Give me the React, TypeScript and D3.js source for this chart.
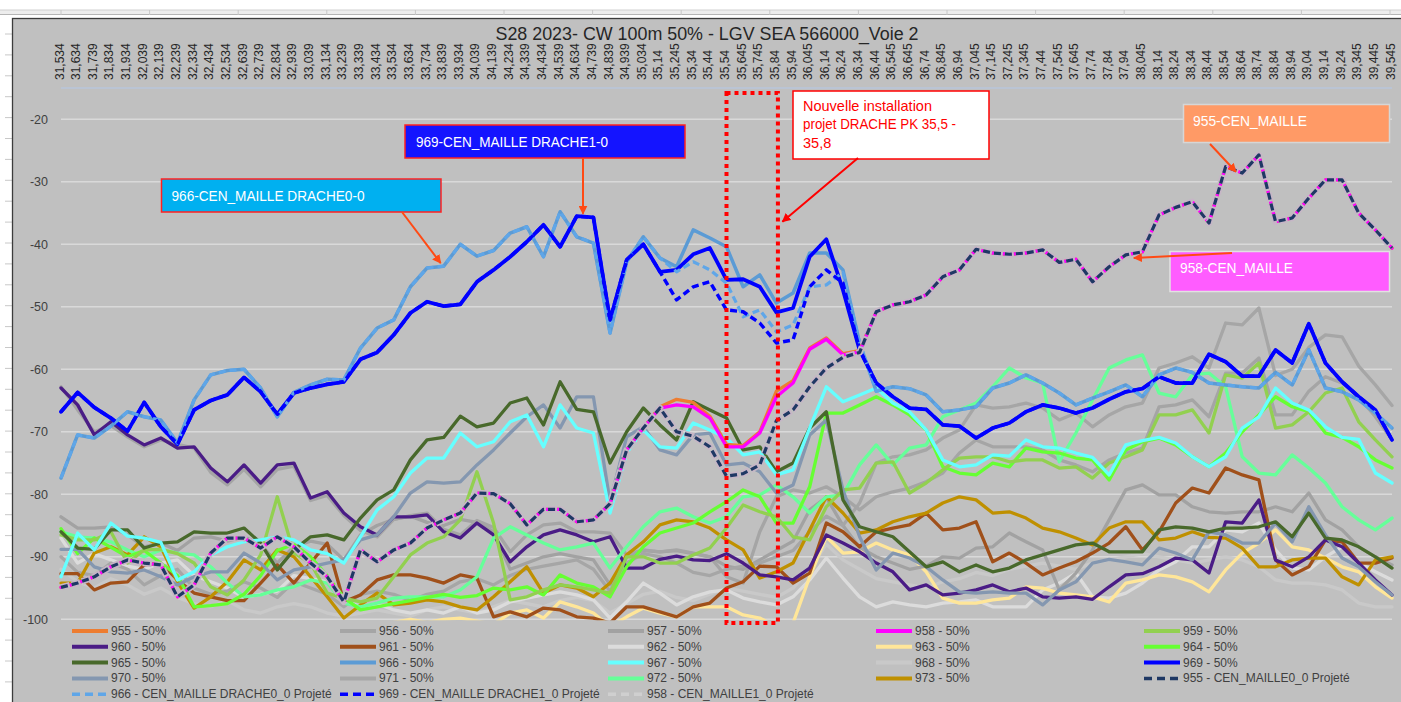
import React from 'react';
import * as d3 from 'd3';

const CATEGORIES = [
  "31,534","31,634","31,739","31,834","31,934","32,039","32,139","32,239","32,334","32,434",
  "32,534","32,639","32,739","32,834","32,939","33,039","33,134","33,239","33,339","33,434",
  "33,534","33,634","33,734","33,839","33,934","34,039","34,139","34,234","34,339","34,434",
  "34,539","34,634","34,739","34,839","34,939","35,034","35,14","35,245","35,34","35,44",
  "35,54","35,645","35,745","35,84","35,94","36,045","36,14","36,24","36,34","36,44",
  "36,545","36,645","36,74","36,845","36,94","37,045","37,145","37,245","37,345","37,44",
  "37,545","37,645","37,74","37,84","37,94","38,045","38,14","38,24","38,34","38,44",
  "38,54","38,64","38,74","38,84","38,94","39,04","39,14","39,24","39,345","39,445",
  "39,545"
];

const Y_TICKS = [-20, -30, -40, -50, -60, -70, -80, -90, -100];

const S955 = [
  -94.9,-94.2,-93.2,-91.6,-90.5,-91.0,-91.3,-96.4,-94.5,-89.4,
  -87.0,-87.0,-88.6,-86.8,-88.4,-91.0,-93.2,-97.2,-88.9,-90.8,
  -88.9,-87.8,-85.4,-84.1,-83.0,-79.8,-79.9,-81.5,-84.9,-82.4,
  -82.4,-84.4,-84.1,-81.5,-72.9,-69.4,-66.0,-64.8,-65.3,-67.5,
  -72.0,-72.2,-70.0,-63.5,-61.8,-56.6,-55.0,-57.5,-57.0,-50.8,
  -49.7,-49.2,-48.1,-45.2,-44.1,-40.8,-41.4,-41.6,-41.4,-40.9,
  -42.9,-42.4,-46.0,-43.6,-41.7,-41.2,-35.3,-34.1,-33.2,-36.6,
  -27.6,-28.6,-25.7,-36.4,-35.8,-32.6,-29.7,-29.7,-35.0,-37.7,
  -40.6
];
const S956 = [
  -62.8,-66.5,-70.0,-69.0,-70.8,-72.4,-71.3,-72.0,-72.6,-76.5,
  -78.5,-76.0,-78.8,-76.0,-75.5,-81.0,-80.2,-83.4,-85.8,-86.8,
  -84.0,-83.4,-83.0,-85.6,-86.5,-84.2,-85.3,-89.2,-86.5,-84.9,
  -84.6,-86.0,-86.0,-86.2,-89.7,-88.9,-89.2,-88.9,-89.4,-90.0,
  -93.2,-94.2,-86.0,-80.4,-79.3,-79.8,-78.8,-80.4,-82.5,-80.4,
  -79.6,-79.0,-78.0,-76.6,-73.4,-71.3,-72.4,-72.4,-72.4,-72.9,
  -74.5,-75.3,-76.4,-74.5,-73.4,-72.6,-66.0,-65.7,-64.9,-67.6,
  -60.6,-60.6,-58.2,-67.3,-67.3,-63.5,-61.2,-62.2,-64.4,-67.6,
  -71.3
];
const S957 = [
  -83.6,-85.4,-85.4,-85.2,-86.5,-88.4,-87.8,-89.0,-87.0,-86.8,
  -87.5,-86.8,-88.0,-91.0,-88.4,-87.5,-88.0,-90.5,-86.5,-85.0,
  -84.0,-83.5,-84.5,-85.0,-84.0,-84.5,-86.0,-92.0,-91.0,-90.0,
  -89.5,-90.0,-90.5,-94.5,-90.0,-89.0,-89.2,-89.0,-89.5,-90.0,
  -91.5,-92.0,-90.5,-89.0,-87.5,-82.5,-80.5,-85.0,-88.5,-90.0,
  -91.0,-92.0,-91.5,-90.0,-90.2,-88.6,-88.4,-86.2,-87.6,-88.9,
  -95.3,-92.6,-88.9,-84.1,-79.3,-78.5,-80.1,-80.1,-82.0,-82.8,
  -83.0,-82.8,-82.8,-82.0,-82.8,-79.8,-84.1,-85.7,-88.4,-90.0,
  -91.3
];
const S958 = [
  -94.9,-94.2,-93.2,-91.6,-90.5,-91.0,-91.3,-96.4,-94.5,-89.4,
  -87.0,-87.0,-88.6,-86.8,-88.4,-91.0,-93.2,-97.2,-88.9,-90.8,
  -88.9,-87.8,-85.4,-84.1,-83.0,-79.8,-79.9,-81.5,-84.9,-82.4,
  -82.4,-84.4,-84.1,-81.5,-72.9,-69.4,-66.2,-65.7,-66.0,-67.8,
  -72.4,-72.4,-70.2,-64.4,-62.2,-56.8,-55.2,-57.7,-57.2,-50.8,
  -49.7,-49.2,-48.1,-45.2,-44.1,-40.8,-41.4,-41.6,-41.4,-40.9,
  -42.9,-42.4,-46.0,-43.6,-41.7,-41.2,-35.3,-34.1,-33.2,-36.6,
  -27.6,-28.6,-25.7,-36.4,-35.8,-32.6,-29.7,-29.7,-35.0,-37.7,
  -40.6
];
const S959 = [
  -86.5,-87.3,-87.3,-86.0,-91.0,-88.9,-88.8,-89.5,-91.0,-94.8,
  -96.1,-93.7,-89.7,-80.4,-89.4,-91.0,-95.8,-96.6,-97.2,-96.6,
  -93.2,-89.7,-87.8,-86.8,-84.1,-76.4,-84.6,-96.9,-96.4,-95.3,
  -94.5,-94.8,-95.3,-95.8,-90.0,-90.0,-91.0,-91.0,-89.7,-88.6,
  -85.4,-81.7,-82.8,-83.6,-86.8,-87.3,-82.0,-79.3,-79.0,-75.0,
  -74.8,-79.8,-78.2,-76.1,-74.2,-74.0,-74.0,-74.8,-74.5,-74.5,
  -75.8,-75.6,-77.4,-75.0,-74.0,-72.9,-67.3,-67.3,-66.5,-70.2,
  -60.9,-61.4,-59.0,-69.4,-68.9,-66.8,-63.8,-63.0,-68.4,-71.3,
  -74.0
];
const S960 = [
  -63.0,-65.7,-70.5,-68.4,-70.5,-72.1,-71.0,-72.6,-72.4,-75.8,
  -78.0,-75.3,-78.2,-75.3,-75.0,-80.6,-79.6,-83.0,-85.2,-86.5,
  -83.6,-83.6,-83.3,-86.0,-87.0,-84.6,-86.5,-90.8,-88.4,-86.5,
  -85.7,-86.5,-87.6,-86.8,-91.8,-91.8,-90.4,-89.9,-90.5,-90.6,
  -89.5,-91.0,-92.9,-93.2,-93.7,-91.8,-86.5,-87.8,-89.2,-91.0,
  -92.4,-95.3,-94.5,-96.1,-95.8,-95.3,-94.5,-95.6,-95.0,-96.4,
  -96.6,-96.4,-96.8,-94.8,-92.9,-92.7,-91.6,-90.2,-90.5,-92.6,
  -84.4,-84.6,-80.9,-90.5,-91.6,-90.0,-87.3,-88.4,-91.0,-93.7,
  -96.1
];
const S961 = [
  -92.7,-92.7,-95.3,-94.2,-94.0,-91.3,-91.0,-93.7,-95.8,-96.4,
  -97.0,-97.0,-94.2,-91.3,-94.2,-91.0,-87.8,-97.2,-96.1,-93.7,
  -92.9,-92.9,-93.4,-94.2,-92.9,-93.4,-99.6,-98.8,-99.6,-98.2,
  -98.5,-99.6,-99.8,-100.6,-98.0,-98.0,-98.8,-99.6,-98.0,-97.4,
  -95.0,-94.0,-91.5,-91.6,-94.2,-92.6,-84.6,-86.0,-88.4,-86.0,
  -85.4,-84.9,-83.0,-85.7,-85.4,-84.4,-90.8,-89.4,-91.0,-92.9,
  -91.8,-90.8,-89.4,-87.8,-85.2,-88.9,-86.0,-81.4,-79.0,-79.8,
  -75.8,-76.9,-77.7,-90.5,-92.9,-91.6,-87.3,-87.6,-91.0,-91.0,
  -90.2
];
const S962 = [
  -87.0,-91.0,-89.5,-90.5,-91.5,-92.0,-91.0,-90.5,-93.0,-94.0,
  -95.0,-96.5,-96.0,-95.5,-93.0,-93.5,-94.0,-97.0,-98.0,-97.5,
  -98.5,-99.0,-98.5,-99.0,-98.0,-99.0,-98.5,-97.2,-96.6,-96.1,
  -95.6,-96.1,-96.9,-99.8,-97.2,-94.2,-95.8,-97.7,-96.4,-95.6,
  -95.3,-96.6,-97.2,-97.7,-96.4,-93.7,-90.2,-93.4,-96.4,-98.0,
  -97.2,-97.7,-98.0,-97.4,-97.2,-96.9,-98.0,-98.0,-98.0,-95.3,
  -94.2,-92.6,-96.4,-96.6,-95.8,-94.2,-92.1,-90.8,-88.4,-88.4,
  -85.7,-86.0,-84.6,-88.9,-91.8,-92.1,-90.0,-88.4,-91.0,-92.4,
  -93.7
];
const S963 = [
  -101.0,-101.0,-102.0,-101.0,-100.5,-101.0,-102.0,-101.0,-101.5,-101.0,
  -100.5,-101.0,-101.5,-101.0,-100.5,-101.0,-101.0,-102.0,-102.0,-101.0,
  -100.5,-100.0,-100.5,-100.0,-99.8,-100.3,-100.8,-99.0,-98.5,-99.8,
  -97.2,-98.0,-99.0,-101.2,-99.6,-98.2,-99.0,-99.6,-98.0,-98.0,
  -98.0,-99.3,-99.8,-101.2,-100.6,-93.2,-86.8,-89.4,-89.2,-87.8,
  -88.9,-89.7,-92.4,-96.6,-97.4,-97.4,-96.9,-96.6,-94.8,-95.0,
  -95.8,-96.1,-96.4,-97.2,-94.2,-93.7,-92.9,-93.2,-94.0,-95.6,
  -92.1,-89.4,-87.8,-85.7,-88.4,-88.9,-90.2,-91.6,-92.4,-94.8,
  -96.6
];
const S964 = [
  -85.5,-89.5,-87.0,-88.5,-90.0,-89.0,-91.0,-93.0,-98.0,-97.8,
  -97.5,-96.0,-93.0,-89.0,-88.0,-90.0,-93.0,-96.5,-98.5,-98.0,
  -97.5,-97.0,-96.5,-96.0,-96.5,-96.2,-95.0,-95.3,-94.8,-96.1,
  -92.9,-94.2,-94.8,-96.4,-91.6,-88.4,-86.2,-85.4,-84.6,-82.8,
  -81.2,-79.3,-80.4,-84.6,-84.6,-78.8,-67.0,-67.0,-65.7,-64.4,
  -65.7,-67.3,-69.7,-75.6,-76.6,-76.9,-75.0,-75.6,-72.6,-73.2,
  -73.4,-74.2,-74.5,-77.7,-72.9,-71.6,-71.0,-72.1,-74.0,-75.6,
  -73.4,-70.0,-67.3,-64.4,-66.0,-66.8,-70.2,-70.9,-72.4,-74.5,
  -75.8
];
const S965 = [
  -86.0,-88.6,-88.8,-85.7,-85.7,-88.6,-87.8,-87.6,-86.0,-86.2,
  -86.2,-85.4,-87.8,-92.1,-88.9,-86.8,-86.5,-87.3,-83.8,-80.9,
  -79.3,-74.5,-71.3,-70.9,-67.5,-69.2,-68.6,-65.4,-64.6,-68.9,
  -62.0,-66.4,-66.8,-75.0,-70.0,-66.2,-68.9,-71.3,-65.2,-66.5,
  -67.8,-72.9,-72.4,-76.4,-75.0,-69.4,-66.8,-80.9,-85.2,-86.0,
  -86.8,-89.2,-91.6,-90.8,-92.4,-91.3,-92.4,-91.8,-90.5,-89.7,
  -88.9,-88.1,-87.8,-89.2,-89.2,-89.2,-85.7,-85.2,-85.4,-86.0,
  -85.4,-85.4,-85.2,-84.4,-86.8,-83.0,-87.0,-87.3,-88.4,-90.0,
  -91.8
];
const S966 = [
  -77.4,-70.5,-71.0,-69.1,-66.8,-67.6,-68.1,-71.8,-64.9,-60.9,
  -60.2,-60.0,-63.0,-67.6,-63.7,-62.5,-61.6,-61.7,-56.6,-53.4,
  -52.1,-46.8,-43.8,-43.5,-40.0,-41.9,-41.0,-38.2,-37.2,-42.0,
  -34.8,-38.8,-39.8,-54.2,-42.8,-38.8,-42.2,-43.6,-37.7,-39.0,
  -40.4,-46.8,-44.9,-49.4,-47.8,-41.4,-41.4,-44.1,-55.8,-63.5,
  -62.8,-63.1,-64.1,-66.8,-66.5,-66.0,-63.0,-62.2,-60.9,-62.2,
  -63.8,-65.7,-64.6,-63.6,-62.5,-64.4,-60.9,-59.8,-60.5,-62.2,
  -62.5,-62.8,-63.0,-60.5,-62.5,-56.9,-63.0,-63.6,-64.9,-67.0,
  -69.4
];
const S967 = [
  -93.2,-86.2,-88.9,-84.6,-86.7,-87.0,-87.7,-93.7,-92.4,-89.7,
  -88.4,-87.6,-87.3,-86.8,-87.3,-88.9,-89.5,-91.0,-86.8,-82.5,
  -80.4,-76.6,-74.2,-74.2,-70.2,-72.4,-71.6,-68.4,-67.3,-72.4,
  -65.7,-69.4,-70.2,-83.0,-73.4,-69.7,-72.4,-72.6,-68.6,-69.7,
  -71.0,-73.7,-73.2,-76.9,-76.1,-69.4,-62.8,-65.2,-64.1,-63.0,
  -65.4,-66.8,-69.7,-74.5,-75.6,-75.3,-73.7,-73.9,-71.3,-72.4,
  -72.6,-73.4,-74.1,-76.9,-72.1,-71.4,-70.9,-71.8,-74.0,-75.6,
  -74.0,-69.4,-67.6,-63.0,-65.4,-66.5,-69.2,-70.9,-71.2,-76.6,
  -78.2
];
const S968 = [
  -92.0,-94.0,-95.0,-93.5,-94.5,-96.0,-95.0,-96.5,-97.5,-98.0,
  -97.0,-98.5,-99.0,-98.0,-97.5,-98.0,-99.0,-99.5,-99.0,-98.5,
  -99.0,-99.5,-98.5,-98.0,-98.5,-99.0,-98.0,-97.0,-97.5,-98.0,
  -97.0,-96.5,-97.0,-99.0,-97.5,-96.0,-95.5,-96.5,-97.0,-96.0,
  -95.0,-95.5,-96.0,-96.5,-95.0,-92.0,-88.0,-90.5,-92.0,-93.5,
  -94.0,-94.5,-95.0,-94.0,-93.5,-92.5,-93.0,-92.0,-91.5,-91.0,
  -91.5,-92.0,-91.0,-90.5,-90.0,-89.5,-90.0,-90.5,-91.0,-90.5,
  -90.0,-90.5,-91.6,-93.7,-94.2,-94.2,-94.5,-95.3,-97.4,-98.0,
  -98.0
];
const S969 = [
  -66.8,-63.7,-66.1,-67.8,-69.9,-65.3,-69.2,-72.0,-66.5,-65.0,
  -64.1,-61.3,-63.6,-67.2,-63.8,-63.0,-62.4,-62.0,-58.4,-57.3,
  -54.5,-51.0,-49.2,-49.9,-49.6,-46.0,-44.1,-42.0,-39.6,-36.9,
  -40.4,-35.5,-35.7,-52.1,-42.5,-40.0,-44.4,-44.1,-41.6,-40.6,
  -45.7,-45.6,-46.8,-50.9,-50.2,-42.0,-39.2,-47.3,-56.9,-62.2,
  -64.4,-66.2,-66.4,-68.9,-69.1,-71.0,-69.4,-68.6,-66.8,-65.7,
  -66.2,-67.0,-66.2,-64.8,-63.6,-63.1,-61.2,-62.2,-62.2,-57.6,
  -58.8,-61.1,-61.1,-56.9,-59.0,-52.7,-59.0,-62.0,-64.4,-66.5,
  -71.3
];
const S970 = [
  -88.8,-88.8,-91.6,-92.4,-92.6,-92.1,-93.2,-94.5,-93.2,-92.4,
  -92.4,-89.4,-91.0,-93.7,-92.1,-91.6,-91.0,-90.5,-87.3,-86.5,
  -83.6,-79.8,-78.0,-78.2,-78.0,-75.3,-72.9,-70.2,-67.6,-65.7,
  -69.4,-64.4,-64.4,-81.2,-70.8,-69.2,-72.9,-73.7,-70.5,-70.2,
  -75.3,-75.0,-76.4,-79.8,-78.5,-70.5,-68.1,-79.3,-86.8,-92.1,
  -89.4,-90.2,-91.6,-93.7,-95.6,-95.8,-95.6,-95.8,-95.8,-97.7,
  -95.3,-94.0,-91.0,-90.4,-90.8,-91.3,-88.6,-89.4,-90.5,-86.0,
  -86.5,-87.8,-87.8,-84.6,-87.6,-82.0,-86.5,-90.2,-91.6,-94.0,
  -96.1
];
const S971 = [
  -90.0,-92.5,-93.0,-91.0,-92.0,-94.5,-93.0,-92.0,-95.0,-96.0,
  -95.5,-94.0,-95.0,-96.5,-94.0,-95.0,-96.0,-98.0,-96.0,-95.5,
  -96.0,-97.0,-96.0,-95.5,-94.0,-93.5,-94.5,-93.0,-92.0,-91.5,
  -91.0,-90.5,-92.0,-95.5,-91.0,-89.5,-90.0,-91.0,-92.5,-93.0,
  -92.0,-91.5,-91.0,-90.0,-89.0,-86.0,-83.5,-85.0,-81.4,-75.0,
  -74.0,-73.7,-72.9,-71.0,-69.7,-65.7,-66.2,-66.0,-65.4,-66.2,
  -68.1,-67.0,-69.2,-67.3,-66.0,-65.4,-59.8,-59.0,-58.0,-59.8,
  -52.6,-52.9,-50.2,-61.0,-60.0,-56.5,-54.5,-54.8,-59.5,-62.5,
  -65.8
];
const S972 = [
  -86.0,-86.8,-87.0,-87.6,-88.9,-90.0,-88.9,-89.4,-89.7,-91.6,
  -94.2,-96.4,-96.1,-95.3,-94.8,-93.7,-94.2,-97.4,-98.0,-97.4,
  -96.6,-96.4,-96.4,-96.4,-95.3,-93.2,-87.0,-85.2,-86.5,-87.8,
  -88.9,-88.4,-87.8,-91.8,-88.4,-85.2,-82.8,-82.2,-83.6,-84.6,
  -83.6,-80.4,-80.1,-78.5,-80.4,-83.0,-80.4,-80.1,-75.3,-72.1,
  -75.3,-72.6,-72.1,-67.6,-66.5,-65.4,-62.8,-59.8,-61.4,-62.2,
  -74.8,-70.2,-64.9,-59.8,-58.5,-57.7,-63.8,-64.4,-60.9,-60.6,
  -62.8,-74.0,-76.6,-76.9,-73.7,-75.8,-78.2,-82.0,-84.1,-85.7,
  -83.8
];
const S973 = [
  -94.2,-94.2,-89.4,-88.4,-89.7,-86.8,-88.4,-94.0,-98.2,-96.4,
  -94.0,-90.5,-92.1,-88.9,-90.0,-93.2,-96.4,-99.8,-97.7,-95.8,
  -97.7,-97.4,-96.9,-97.2,-98.0,-98.5,-96.4,-94.0,-91.6,-95.8,
  -94.5,-95.0,-96.4,-94.2,-89.7,-87.6,-84.9,-84.1,-84.4,-85.4,
  -87.3,-88.9,-93.4,-92.4,-91.0,-85.7,-80.4,-83.0,-86.2,-85.7,
  -84.4,-83.6,-83.0,-81.4,-80.4,-80.9,-83.0,-82.8,-83.8,-85.4,
  -86.0,-87.0,-88.1,-85.4,-84.4,-84.4,-87.3,-87.0,-86.0,-86.9,
  -87.0,-88.6,-91.6,-91.6,-90.5,-90.2,-90.2,-93.2,-94.5,-90.5,
  -90.0
];
const S955_PROJ = [
  -94.9,-94.2,-93.2,-91.6,-90.5,-91.0,-91.3,-96.4,-94.5,-89.4,
  -87.0,-87.0,-88.6,-86.8,-88.4,-91.0,-93.2,-97.2,-88.9,-90.8,
  -88.9,-87.8,-85.4,-84.1,-83.0,-79.8,-79.9,-81.5,-84.9,-82.4,
  -82.4,-84.4,-84.1,-81.5,-72.9,-69.4,-66.2,-70.0,-70.7,-72.4,
  -77.1,-76.7,-75.3,-68.2,-66.5,-62.8,-59.8,-58.1,-57.3,-50.8,
  -49.7,-49.2,-48.1,-45.2,-44.1,-40.8,-41.4,-41.6,-41.4,-40.9,
  -42.9,-42.4,-46.0,-43.6,-41.7,-41.2,-35.3,-34.1,-33.2,-36.6,
  -27.6,-28.6,-25.7,-36.4,-35.8,-32.6,-29.7,-29.7,-35.0,-37.7,
  -40.6
];
const S966_PROJ = [
  -77.4,-70.5,-71.0,-69.1,-66.8,-67.6,-68.1,-71.8,-64.9,-60.9,
  -60.2,-60.0,-63.0,-67.6,-63.7,-62.5,-61.6,-61.7,-56.6,-53.4,
  -52.1,-46.8,-43.8,-43.5,-40.0,-41.9,-41.0,-38.2,-37.2,-42.0,
  -34.8,-38.8,-39.8,-54.2,-42.8,-38.8,-42.2,-44.4,-42.8,-44.1,
  -46.2,-51.6,-50.5,-54.0,-52.9,-46.8,-46.5,-44.5,-55.8,-63.5,
  -62.8,-63.1,-64.1,-66.8,-66.5,-66.0,-63.0,-62.2,-60.9,-62.2,
  -63.8,-65.7,-64.6,-63.6,-62.5,-64.4,-60.9,-59.8,-60.5,-62.2,
  -62.5,-62.8,-63.0,-60.5,-62.5,-56.9,-63.0,-63.6,-64.9,-67.0,
  -69.4
];
const S969_PROJ = [
  -66.8,-63.7,-66.1,-67.8,-69.9,-65.3,-69.2,-72.0,-66.5,-65.0,
  -64.1,-61.3,-63.6,-67.2,-63.8,-63.0,-62.4,-62.0,-58.4,-57.3,
  -54.5,-51.0,-49.2,-49.9,-49.6,-46.0,-44.1,-42.0,-39.6,-36.9,
  -40.4,-35.5,-35.7,-52.1,-42.5,-40.0,-44.4,-48.9,-46.8,-46.0,
  -50.5,-50.8,-52.6,-55.8,-55.3,-46.8,-44.1,-46.2,-56.9,-62.2,
  -64.4,-66.2,-66.4,-68.9,-69.1,-71.0,-69.4,-68.6,-66.8,-65.7,
  -66.2,-67.0,-66.2,-64.8,-63.6,-63.1,-61.2,-62.2,-62.2,-57.6,
  -58.8,-61.1,-61.1,-56.9,-59.0,-52.7,-59.0,-62.0,-64.4,-66.5,
  -71.3
];
const S958_PROJ = [
  -94.9,-94.2,-93.2,-91.6,-90.5,-91.0,-91.3,-96.4,-94.5,-89.4,
  -87.0,-87.0,-88.6,-86.8,-88.4,-91.0,-93.2,-97.2,-88.9,-90.8,
  -88.9,-87.8,-85.4,-84.1,-83.0,-79.8,-79.9,-81.5,-84.9,-82.4,
  -82.4,-84.4,-84.1,-81.5,-72.9,-69.4,-66.2,-70.0,-70.7,-72.4,
  -77.1,-76.7,-75.3,-68.2,-66.5,-62.8,-59.8,-58.1,-57.3,-50.8,
  -49.7,-49.2,-48.1,-45.2,-44.1,-40.8,-41.4,-41.6,-41.4,-40.9,
  -42.9,-42.4,-46.0,-43.6,-41.7,-41.2,-35.3,-34.1,-33.2,-36.6,
  -27.6,-28.6,-25.7,-36.4,-35.8,-32.6,-29.7,-29.7,-35.0,-37.7,
  -40.6
];

type Series = { name: string; values: number[]; color: string; width: number; dash?: string; legendColor?: string; legendDash?: string };

// legend order (Excel order)
const SERIES: Series[] = [
  { name: '955 - 50%', values: S955, color: '#ED7D31', width: 3.3 },
  { name: '956 - 50%', values: S956, color: '#A5A5A5', width: 3.3 },
  { name: '957 - 50%', values: S957, color: '#A2A2A2', width: 3.3 },
  { name: '958 - 50%', values: S958, color: '#FF00FF', width: 3.3 },
  { name: '959 - 50%', values: S959, color: '#92D050', width: 3.3 },
  { name: '960 - 50%', values: S960, color: '#4A1C86', width: 3.3 },
  { name: '961 - 50%', values: S961, color: '#A0501A', width: 3.3 },
  { name: '962 - 50%', values: S962, color: '#DCDCDC', width: 3.3 },
  { name: '963 - 50%', values: S963, color: '#FFE699', width: 3.3 },
  { name: '964 - 50%', values: S964, color: '#66FF33', width: 3.3 },
  { name: '965 - 50%', values: S965, color: '#48692B', width: 3.3 },
  { name: '966 - 50%', values: S966, color: '#5B9BD5', width: 3.5 },
  { name: '967 - 50%', values: S967, color: '#66FFFF', width: 3.3 },
  { name: '968 - 50%', values: S968, color: '#C9C9C9', width: 3.3 },
  { name: '969 - 50%', values: S969, color: '#0000FF', width: 3.8 },
  { name: '970 - 50%', values: S970, color: '#8497B0', width: 3.3 },
  { name: '971 - 50%', values: S971, color: '#A6A6A6', width: 3.3 },
  { name: '972 - 50%', values: S972, color: '#66FF99', width: 3.3 },
  { name: '973 - 50%', values: S973, color: '#BF9000', width: 3.3 },
  { name: '955 - CEN_MAILLE0_0 Projeté', values: S955_PROJ, color: '#1F3864', width: 3.2, dash: '7,4' },
  { name: '966 - CEN_MAILLE DRACHE0_0 Projeté', values: S966_PROJ, color: '#5FA6E8', width: 3.2, dash: '7,4' },
  { name: '969 - CEN_MAILLE DRACHE1_0 Projeté', values: S969_PROJ, color: '#0000FF', width: 3.4, dash: '7,4' },
  { name: '958 - CEN_MAILLE1_0 Projeté', values: S958_PROJ, color: '#C6B6C6', width: 6.5, dash: '9,2', legendColor: '#CFCFCF', legendDash: '8,5' },
];

// draw order (projected gray halo under navy dashes)
const DRAW_ORDER = [
  '968 - 50%', '962 - 50%', '963 - 50%', '957 - 50%', '971 - 50%', '956 - 50%', '961 - 50%', '973 - 50%',
  '960 - 50%', '972 - 50%', '964 - 50%', '959 - 50%', '970 - 50%', '965 - 50%', '967 - 50%',
  '966 - 50%', '969 - 50%', '955 - 50%', '958 - 50%',
  '966 - CEN_MAILLE DRACHE0_0 Projeté', '969 - CEN_MAILLE DRACHE1_0 Projeté',
  '958 - CEN_MAILLE1_0 Projeté', '955 - CEN_MAILLE0_0 Projeté',
];

const TITLE = 'S28 2023- CW 100m 50% - LGV SEA 566000_Voie 2';
const FONT = "'Liberation Sans', Arial, sans-serif";

export default function App() {
  const W = 1401, H = 702;
  const plotLeft = 61, plotRight = 1392, plotTop = 88, plotBottom = 619.3;
  const x = d3.scalePoint<string>().domain(CATEGORIES).range([plotLeft, plotRight]);
  const y = d3.scaleLinear().domain([-100, -15]).range([plotBottom, plotTop]);
  const lineGen = d3.line<number>().x((_, i) => x(CATEGORIES[i]) as number).y((v) => y(v));
  const byName = new Map(SERIES.map((s) => [s.name, s]));

  const rowTicks = d3.range(34, H, 20.9);
  const colSeps = d3.range(61, W, 88.6);

  const xi = (i: number) => x(CATEGORIES[i]) as number;

  // legend layout
  const legCols = 5, legX0 = 72, legDX = 268, legY0 = 631, legDY = 15.8;

  const arrowColor = '#FF4A14';

  return (
    <svg width={W} height={H} style={{ position: 'absolute', left: 0, top: 0, display: 'block' }} fontFamily={FONT}>
      <defs>
        <clipPath id="plotClip">
          <rect x={0} y={plotTop - 1} width={W} height={plotBottom - plotTop + 2} />
        </clipPath>
        <marker id="arrOr" viewBox="0 0 10 10" refX="9" refY="5" markerWidth="9" markerHeight="9" markerUnits="userSpaceOnUse" orient="auto">
          <path d="M0,0 L10,5 L0,10 z" fill={arrowColor} />
        </marker>
        <marker id="arrRed" viewBox="0 0 10 10" refX="9" refY="5" markerWidth="9" markerHeight="9" markerUnits="userSpaceOnUse" orient="auto">
          <path d="M0,0 L10,5 L0,10 z" fill="#FF0000" />
        </marker>
      </defs>
      <rect x={0} y={0} width={W} height={H} fill="#FFFFFF" />
      {/* spreadsheet header */}
      <rect x={0} y={10} width={W} height={4.5} fill="#EDEDED" />
      <line x1={0} x2={W} y1={10} y2={10} stroke="#D0D0D0" />
      <line x1={0} x2={W} y1={14.5} y2={14.5} stroke="#B5B5B5" strokeWidth={1.2} />
      {colSeps.map((cx, k) => (
        <line key={`cs${k}`} x1={cx} x2={cx} y1={10} y2={15} stroke="#C8C8C8" />
      ))}
      {rowTicks.map((ry, k) => (
        <line key={`rt${k}`} x1={5} x2={12} y1={ry} y2={ry} stroke="#C8C8C8" />
      ))}
      {/* chart area */}
      <rect x={12.5} y={18.5} width={W} height={H} fill="#C0C0C0" stroke="#3C3C3C" strokeWidth={1.3} />

      {/* title */}
      <text x={707} y={40} textAnchor="middle" fontSize={18} fill="#262626" textLength={423} lengthAdjust="spacingAndGlyphs">{TITLE}</text>

      {/* gridlines */}
      {Y_TICKS.map((t) => (
        <line key={`g${t}`} x1={plotLeft} x2={plotRight} y1={y(t)} y2={y(t)} stroke="#D9D9D9" strokeWidth={1.5} />
      ))}
      {/* top category axis line */}
      <line x1={plotLeft} x2={plotRight} y1={y(-15)} y2={y(-15)} stroke="#B4C7E7" strokeWidth={1.2} />

      {/* y tick labels */}
      {Y_TICKS.map((t) => (
        <text key={`yt${t}`} x={48} y={y(t) + 4.5} textAnchor="end" fontSize={12.5} fill="#404040">{t}</text>
      ))}
      {/* x tick labels */}
      {CATEGORIES.map((c) => (
        <text key={`xt${c}`} transform={`translate(${(x(c) as number) + 2.5},80) rotate(-90)`} fontSize={12} fill="#262626">{c}</text>
      ))}

      {/* series */}
      <g clipPath="url(#plotClip)">
        {DRAW_ORDER.map((nm) => {
          const s = byName.get(nm)!;
          return (
            <path key={nm} d={lineGen(s.values) || ''} fill="none" stroke={s.color} strokeWidth={s.width}
              strokeDasharray={s.dash} strokeLinejoin="round" strokeLinecap={s.dash ? 'butt' : 'round'} />
          );
        })}
      </g>

      {/* red dotted rectangle */}
      <rect x={xi(40)} y={y(-15.8)} width={xi(43) - xi(40) + 1.5} height={y(-100.6) - y(-15.8)} fill="none" stroke="#FF0000" strokeWidth={4} strokeDasharray="4,4" />

      {/* annotation: 966 */}
      <rect x={161.5} y={179} width={279.5} height={33} fill="#00B0F0" stroke="#FF2020" strokeWidth={1.5} />
      <text x={171.5} y={200.5} fontSize={14.5} fill="#FFFFFF" textLength={193} lengthAdjust="spacingAndGlyphs">966-CEN_MAILLE DRACHE0-0</text>
      <line x1={402} y1={212} x2={xi(23) - 3} y2={y(-43.5) - 3} stroke={arrowColor} strokeWidth={2} markerEnd="url(#arrOr)" />

      {/* annotation: 969 */}
      <rect x={405} y={125} width={280} height={33} fill="#1414FF" stroke="#FF2020" strokeWidth={1.5} />
      <text x={416} y={146.5} fontSize={14.5} fill="#FFFFFF" textLength={192} lengthAdjust="spacingAndGlyphs">969-CEN_MAILLE DRACHE1-0</text>
      <line x1={583} y1={158} x2={583} y2={y(-35.6) - 3} stroke={arrowColor} strokeWidth={2} markerEnd="url(#arrOr)" />

      {/* annotation: nouvelle installation */}
      <rect x={793} y={91} width={196} height={68} fill="#FFFFFF" stroke="#FF0000" strokeWidth={1.5} />
      <text x={803} y={110.5} fontSize={14.5} fill="#FF0000" textLength={129} lengthAdjust="spacingAndGlyphs">Nouvelle installation</text>
      <text x={803} y={129} fontSize={14.5} fill="#FF0000" textLength={153} lengthAdjust="spacingAndGlyphs">projet DRACHE PK 35,5 -</text>
      <text x={803} y={147.5} fontSize={14.5} fill="#FF0000">35,8</text>
      <line x1={858} y1={158} x2={xi(43) + 6} y2={y(-36.4)} stroke="#FF0000" strokeWidth={2} markerEnd="url(#arrRed)" />

      {/* annotation: 955 */}
      <rect x={1183.5} y={104.5} width={206} height={38} fill="#FF9A66" stroke="#D6D6D6" strokeWidth={1.5} />
      <text x={1193} y={125.5} fontSize={14.5} fill="#FFFFFF" textLength={114} lengthAdjust="spacingAndGlyphs">955-CEN_MAILLE</text>
      <line x1={1210} y1={144} x2={(xi(70) + xi(71)) / 2 + 2} y2={y(-28.4)} stroke={arrowColor} strokeWidth={2} markerEnd="url(#arrOr)" />

      {/* annotation: 958 */}
      <rect x={1170} y={251.5} width={219.5} height={40} fill="#FF5CFF" stroke="#E2E2E2" strokeWidth={1.5} />
      <text x={1180} y={272.5} fontSize={14.5} fill="#FFFFFF" textLength={113} lengthAdjust="spacingAndGlyphs">958-CEN_MAILLE</text>
      <line x1={1232} y1={253} x2={xi(64) + 8} y2={y(-42.2)} stroke={arrowColor} strokeWidth={2} markerEnd="url(#arrOr)" />

      {/* legend */}
      {SERIES.map((s, k) => {
        const col = k % legCols, row = Math.floor(k / legCols);
        const lx = legX0 + col * legDX, ly = legY0 + row * legDY;
        return (
          <g key={`lg${k}`}>
            <line x1={lx} x2={lx + 36} y1={ly} y2={ly} stroke={s.legendColor ?? s.color} strokeWidth={s.dash ? 3.5 : 4} strokeDasharray={s.dash ? (s.legendDash ?? '8,5') : undefined} />
            <text x={lx + 39} y={ly + 4} fontSize={12} fill="#404040">{s.name}</text>
          </g>
        );
      })}
    </svg>
  );
}
